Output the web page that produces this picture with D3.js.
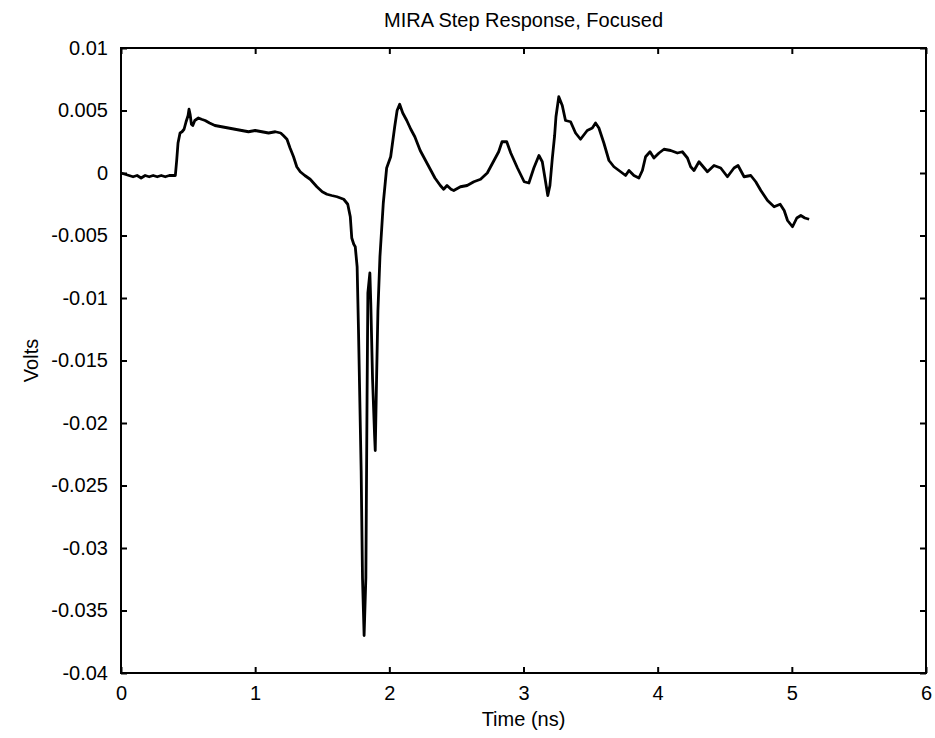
<!DOCTYPE html>
<html><head><meta charset="utf-8">
<script src="https://cdn.jsdelivr.net/npm/d3@7"></script>
<style>
body{margin:0;background:#fff;}
text{font-family:"Liberation Sans",Arial,sans-serif;fill:#000;}
</style></head>
<body><svg id="chart" width="935" height="738"></svg>
<script>
const title = "MIRA Step Response, Focused";
const xLabel = "Time (ns)";
const yLabel = "Volts";
const xTicks = [0,1,2,3,4,5,6];
const yTicks = [0.01,0.005,0,-0.005,-0.01,-0.015,-0.02,-0.025,-0.03,-0.035,-0.04];
const yTickLabels = ["0.01","0.005","0","-0.005","-0.01","-0.015","-0.02","-0.025","-0.03","-0.035","-0.04"];

const times = [0,0.03,0.06,0.09,0.12,0.15,0.18,0.21,0.24,0.27,0.30,0.33,0.36,0.39,0.405,0.415,0.425,0.44,0.455,0.47,0.485,0.50,0.507,0.515,0.525,0.535,0.55,0.577,0.60,0.627,0.66,0.70,0.75,0.80,0.85,0.90,0.95,1.00,1.05,1.10,1.15,1.19,1.21,1.237,1.26,1.286,1.31,1.336,1.37,1.41,1.46,1.50,1.535,1.57,1.61,1.66,1.69,1.709,1.72,1.735,1.746,1.76,1.77,1.79,1.80,1.812,1.825,1.834,1.84,1.855,1.862,1.875,1.89,1.895,1.905,1.915,1.93,1.955,1.98,2.01,2.04,2.058,2.077,2.10,2.13,2.16,2.19,2.23,2.27,2.31,2.34,2.38,2.405,2.43,2.46,2.48,2.53,2.58,2.63,2.68,2.73,2.78,2.815,2.84,2.875,2.905,2.955,3.005,3.04,3.077,3.115,3.14,3.160,3.181,3.197,3.215,3.232,3.242,3.263,3.289,3.313,3.351,3.388,3.425,3.475,3.513,3.537,3.562,3.599,3.637,3.674,3.724,3.761,3.786,3.823,3.860,3.886,3.910,3.943,3.972,4.010,4.047,4.097,4.147,4.184,4.222,4.246,4.271,4.308,4.371,4.420,4.470,4.520,4.569,4.599,4.644,4.694,4.731,4.769,4.819,4.868,4.913,4.943,4.968,5.005,5.037,5.067,5.097,5.129];
const volts = [0,-0.0001,-0.0002,-0.0003,-0.0002,-0.0004,-0.0002,-0.0003,-0.0002,-0.0003,-0.0002,-0.0003,-0.0002,-0.0002,-0.0002,0.0010,0.0024,0.0032,0.0033,0.0035,0.0041,0.0046,0.0051,0.0047,0.0039,0.0038,0.0042,0.0044,0.0043,0.0042,0.0040,0.0038,0.0037,0.0036,0.0035,0.0034,0.0033,0.0034,0.0033,0.0032,0.0033,0.0032,0.0030,0.0027,0.0020,0.0013,0.0005,0.0001,-0.0002,-0.0005,-0.0011,-0.0015,-0.0017,-0.0018,-0.0019,-0.0021,-0.0025,-0.0035,-0.0052,-0.0057,-0.0059,-0.0075,-0.0125,-0.0238,-0.0324,-0.0370,-0.0324,-0.0180,-0.0096,-0.0080,-0.0105,-0.0165,-0.0210,-0.0222,-0.0164,-0.0110,-0.0067,-0.0024,0.0004,0.0013,0.0037,0.0050,0.0055,0.0048,0.0042,0.0035,0.0029,0.0018,0.0010,0.0002,-0.0004,-0.0010,-0.0013,-0.0010,-0.0013,-0.0014,-0.0011,-0.0010,-0.0007,-0.0005,0.0000,0.0010,0.0017,0.0025,0.0025,0.0016,0.0004,-0.0007,-0.0008,0.0004,0.0014,0.0009,-0.0004,-0.0018,-0.0010,0.0012,0.0030,0.0045,0.0061,0.0054,0.0042,0.0041,0.0032,0.0027,0.0034,0.0036,0.0040,0.0036,0.0024,0.0010,0.0005,0.0001,-0.0002,0.0002,-0.0002,-0.0004,0.0002,0.0013,0.0017,0.0012,0.0016,0.0019,0.0018,0.0016,0.0017,0.0012,0.0005,0.0002,0.0009,0.0001,0.0006,0.0004,-0.0003,0.0004,0.0006,-0.0003,-0.0002,-0.0007,-0.0014,-0.0022,-0.0027,-0.0025,-0.0030,-0.0038,-0.0043,-0.0036,-0.0034,-0.0036,-0.0037];

const W = 935, H = 738;
const m = {left:121, right:9, top:48, bottom:65};
const svg = d3.select("#chart");
const x = d3.scaleLinear().domain([0,6]).range([m.left, W - m.right]);
const y = d3.scaleLinear().domain([-0.04,0.01]).range([H - m.bottom, m.top]);

const fs = 20;
const fmt = d => yTickLabels[yTicks.indexOf(d)];

// axes
const gB = svg.append("g").attr("transform",`translate(0,${H-m.bottom})`)
  .call(d3.axisBottom(x).tickValues(xTicks).tickSize(-6).tickPadding(13).tickFormat(d3.format("d")));
const gT = svg.append("g").attr("transform",`translate(0,${m.top})`)
  .call(d3.axisTop(x).tickValues(xTicks).tickSize(-6).tickFormat(""));
const gL = svg.append("g").attr("transform",`translate(${m.left},0)`)
  .call(d3.axisLeft(y).tickValues(yTicks).tickSize(-6).tickPadding(13).tickFormat(fmt));
const gR = svg.append("g").attr("transform",`translate(${W-m.right},0)`)
  .call(d3.axisRight(y).tickValues(yTicks).tickSize(-6).tickFormat(""));
[gB,gT,gL,gR].forEach(g=>{
  g.selectAll(".tick line").attr("stroke","#000").attr("stroke-width",2);
  g.selectAll("text").attr("font-family","Liberation Sans, Arial, sans-serif").attr("font-size",fs).attr("fill","#000");
});
svg.selectAll(".domain").remove();
svg.append("rect").attr("x",m.left).attr("y",m.top)
  .attr("width",W-m.left-m.right).attr("height",H-m.top-m.bottom)
  .attr("fill","none").attr("stroke","#000").attr("stroke-width",2);

// line
const data = times.map((t,i)=>({t, v: volts[i]}));
svg.append("path").datum(data)
  .attr("fill","none").attr("stroke","#000").attr("stroke-width",2.8)
  .attr("stroke-linejoin","round")
  .attr("d", d3.line().x(d=>x(d.t)).y(d=>y(d.v)));

// labels
svg.append("text").attr("x",(m.left+W-m.right)/2).attr("y",27)
  .attr("text-anchor","middle").attr("font-size",fs).text(title);
svg.append("text").attr("x",(m.left+W-m.right)/2).attr("y",726)
  .attr("text-anchor","middle").attr("font-size",fs).text(xLabel);
svg.append("text").attr("transform",`translate(38,${(m.top+H-m.bottom)/2}) rotate(-90)`)
  .attr("text-anchor","middle").attr("font-size",fs).text(yLabel);
</script></body></html>
